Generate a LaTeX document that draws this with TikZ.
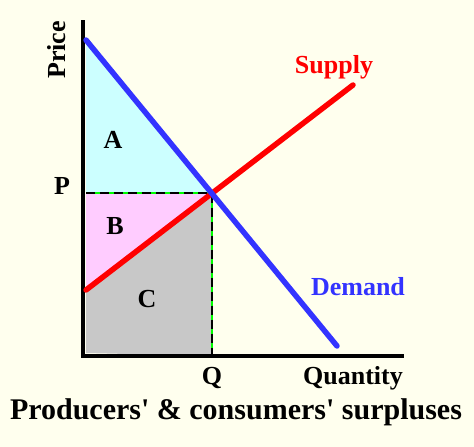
\documentclass[tikz,border=0pt]{standalone}
\usepackage{fontspec}
\setmainfont{Liberation Serif}[Ligatures=TeXOff]
\definecolor{paper}{HTML}{FFFFEE}
\definecolor{cswell}{HTML}{CCFFFF}
\definecolor{pswell}{HTML}{FFCCFF}
\definecolor{costgray}{HTML}{C8C8C8}
\definecolor{supred}{HTML}{FF0000}
\definecolor{demblue}{HTML}{3333FF}
\definecolor{guide}{HTML}{00FF00}

\begin{document}
\begin{tikzpicture}[x=1pt,y=-1pt,
    lbl/.style={font=\bfseries\fontsize{26}{30}\selectfont,inner sep=0pt},
    curve/.style={line width=5.5pt,line cap=round}]
    \fill[paper] (0,0) rectangle (474,447);
    \useasboundingbox (0,0) rectangle (474,447);
    % axes and curve ends
    \coordinate (origin) at (83,356);
    \coordinate (ytop) at (83,20);
    \coordinate (xend) at (404,356);
    \coordinate (dtop) at (86,40);
    \coordinate (dbot) at (337,346);
    \coordinate (sbot) at (86,290);
    \coordinate (stop) at (353,85);
    \coordinate (eq) at (intersection of dtop--dbot and sbot--stop);
    \coordinate (pp) at (dtop |- eq);
    \coordinate (qq) at (eq |- origin);
    \coordinate (corner) at (86,353);
    % surplus areas
    \fill[cswell] (dtop) -- (eq) -- (pp) -- cycle;
    \fill[pswell] (pp) -- (eq) -- (sbot) -- cycle;
    \fill[costgray] (sbot) -- (eq) -- (qq) -- (corner) -- cycle;
    \draw[guide,line width=2pt] (pp) -- (eq) -- (qq);
    \draw[black,line width=2pt,dash pattern=on 9pt off 5pt] (pp) -- (eq) -- (qq);
    \draw[line width=4.5pt] (ytop) -- (origin) -- (xend);
    \draw[curve,supred] (sbot) -- (stop);
    \draw[curve,demblue] (dtop) -- (dbot);
    % labels
    \node[lbl,rotate=90] (price) at (57,50) {Price};
    \node[lbl] (plbl) at (62,186) {P};
    \node[lbl] (qlbl) at (212,378) {Q};
    \node[lbl] (qty) at (353,378) {Quantity};
    \node[lbl] (areaA) at (113,140) {A};
    \node[lbl] (areaB) at (115,226) {B};
    \node[lbl] (areaC) at (147,299) {C};
    \node[lbl,supred] (suplbl) at (334,67) {Supply};
    \node[lbl,demblue] (demlbl) at (358,287) {Demand};
    \node[font=\bfseries\fontsize{30}{34}\selectfont,inner sep=0pt] (title) at (236,412) {Producers' \& consumers' surpluses};
\end{tikzpicture}
\end{document}
